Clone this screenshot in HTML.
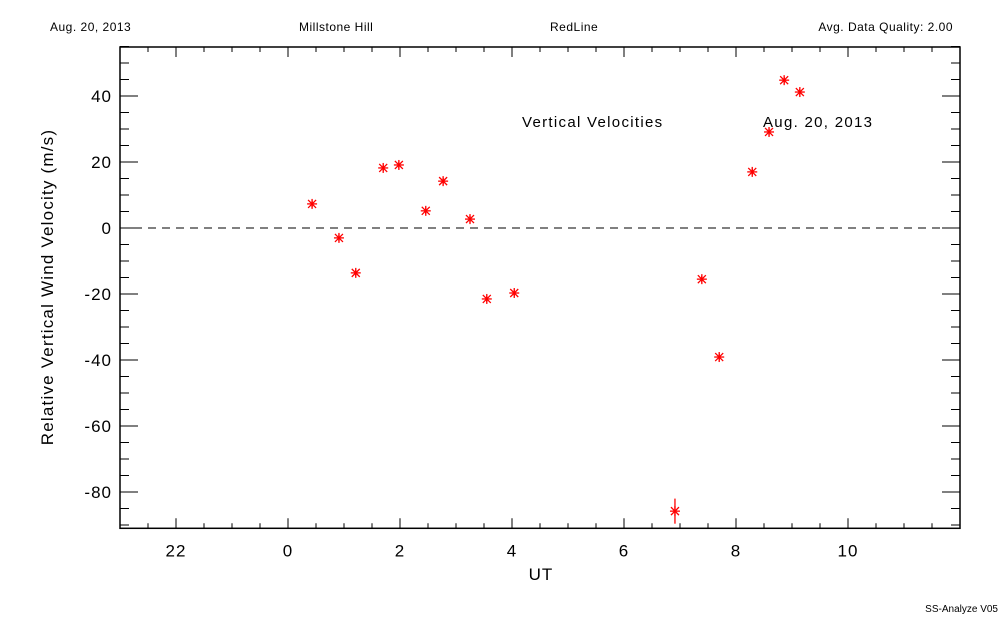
<!DOCTYPE html>
<html><head><meta charset="utf-8"><style>
body{margin:0;background:#fff;}
svg{display:block;font-family:"Liberation Sans",sans-serif;}
</style></head><body>
<svg id="chart" width="1000" height="625" viewBox="0 0 1000 625">
<rect width="1000" height="625" fill="#fff"/>
<text x="50" y="31" font-size="12" letter-spacing="0.5">Aug. 20, 2013</text>
<text x="299" y="31" font-size="12" letter-spacing="0.5">Millstone Hill</text>
<text x="550" y="31" font-size="12" letter-spacing="0.5">RedLine</text>
<text x="953" y="31" font-size="12" text-anchor="end" letter-spacing="0.5">Avg. Data Quality: 2.00</text>
<text x="522" y="127" font-size="15" letter-spacing="1.3">Vertical Velocities</text>
<text x="763" y="127" font-size="15" letter-spacing="1.3">Aug. 20, 2013</text>
<text x="541" y="580" font-size="17" text-anchor="middle" letter-spacing="1">UT</text>
<text transform="translate(53,287) rotate(-90)" font-size="17" text-anchor="middle" letter-spacing="1.2">Relative Vertical Wind Velocity (m/s)</text>
<text x="998" y="612" font-size="10" text-anchor="end">SS-Analyze V05</text>
<g id="axes"></g>
<g id="marks"></g>
</svg>
<script>
const times = [0.43,0.91,1.21,1.70,1.98,2.46,2.77,3.25,3.55,4.04,6.91,7.39,7.70,8.29,8.59,8.86,9.14];
const velocities = [7.3,-3,-13.6,18.2,19.1,5.2,14.2,2.7,-21.5,-19.7,-85.8,-15.5,-39.1,17,29.1,44.8,41.2];
const errors = [1,1,1,1,1,1,1,1,1,1,3.8,1,1,1,1,1,1];
const xTicks = [-2,0,2,4,6,8,10];
const xTickLabels = ["22","0","2","4","6","8","10"];
const yTicks = [-80,-60,-40,-20,0,20,40];

const NS='http://www.w3.org/2000/svg';
const L=120,R=960,T=47;
const xMin=-3,xMax=12,yMin=-91,yMax=55;
const yPer=3.3;
const B=228+(-yMin)*yPer;
function xs(v){return L+(v-xMin)*(R-L)/(xMax-xMin);}
function ys(v){return 228-v*yPer;}
function mk(tag,attrs,parent){const e=document.createElementNS(NS,tag);for(const k in attrs)e.setAttribute(k,attrs[k]);parent.appendChild(e);return e;}
const ax=document.getElementById('axes'),mg=document.getElementById('marks');
const frame=mk('rect',{x:L,y:T,width:R-L,height:B-T,fill:'none',stroke:'#000','stroke-width':1.5},ax);


for(let v=xMin+0.5;v<xMax;v+=0.5){
  const major=Math.abs(v%2)<1e-6;
  const len=major?10:5;
  const x=xs(v);
  mk('line',{x1:x,x2:x,y1:B,y2:B-len,stroke:'#000'},ax);
  mk('line',{x1:x,x2:x,y1:T,y2:T+len,stroke:'#000'},ax);
}
xTicks.forEach((v,i)=>{
  const t=mk('text',{x:xs(v),y:B+28,'font-size':17,'text-anchor':'middle','letter-spacing':1},ax);
  t.textContent=xTickLabels[i];
  
  
});
for(let v=-90;v<=55;v+=5){
  const major=v%20===0;
  const len=major?18:9;
  const y=ys(v);
  mk('line',{x1:L,x2:L+len,y1:y,y2:y,stroke:'#000'},ax);
  mk('line',{x1:R,x2:R-len,y1:y,y2:y,stroke:'#000'},ax);
}
yTicks.forEach(v=>{
  const t=mk('text',{x:L-8,y:ys(v)+6,'font-size':17,'text-anchor':'end','letter-spacing':1},ax);
  t.textContent=String(v);
  
  
});
const zl=mk('line',{x1:L,x2:R,y1:ys(0),y2:ys(0),stroke:'#000','stroke-dasharray':'8,6'},ax);


times.forEach((t,i)=>{
  const x=xs(t),y=ys(velocities[i]);
  const g=mk('g',{stroke:'#f00','stroke-width':1.3},mg);
  
  
  mk('line',{x1:x,x2:x,y1:ys(velocities[i]+errors[i]),y2:ys(velocities[i]-errors[i])},g);
  mk('line',{x1:x-5,x2:x+5,y1:y,y2:y},g);
  mk('line',{x1:x,x2:x,y1:y-5,y2:y+5},g);
  mk('line',{x1:x-4,x2:x+4,y1:y-4,y2:y+4},g);
  mk('line',{x1:x-4,x2:x+4,y1:y+4,y2:y-4},g);
});
</script>
</body></html>
